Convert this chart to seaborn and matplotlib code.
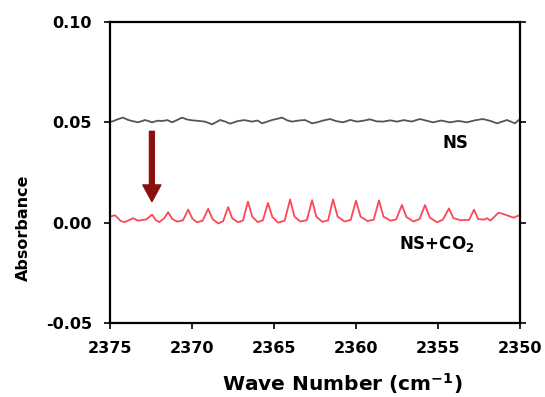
import matplotlib
matplotlib.use("Agg")
import matplotlib.pyplot as plt
import seaborn as sns
import pandas as pd

# ---- data ----
ns_wn = [2375.00, 2374.88, 2374.55, 2374.21, 2373.90, 2373.66, 2373.29, 2372.87, 2372.65,
         2372.44, 2372.10, 2371.83, 2371.50, 2371.22, 2370.90, 2370.61, 2370.30, 2370.00,
         2369.60, 2369.21, 2368.78, 2368.29, 2367.95, 2367.68, 2367.20, 2366.80, 2366.34,
         2366.00, 2365.73, 2365.40, 2365.12, 2364.51, 2364.20, 2363.90, 2363.50, 2363.11,
         2362.68, 2362.38, 2362.00, 2361.59, 2361.20, 2360.79, 2360.35, 2359.94, 2359.55,
         2359.15, 2358.75, 2358.35, 2357.90, 2357.50, 2357.10, 2356.60, 2356.10, 2355.70,
         2355.30, 2354.80, 2354.27, 2353.75, 2353.23, 2352.75, 2352.26, 2351.80, 2351.40,
         2351.10, 2350.79, 2350.30, 2350.00]
ns_abs = [0.0505, 0.05035, 0.0515, 0.05235, 0.0512, 0.05065, 0.0500, 0.05115, 0.0506,
          0.0500, 0.0508, 0.05065, 0.0511, 0.0500, 0.0512, 0.05235, 0.0514, 0.0510,
          0.0507, 0.05035, 0.0490, 0.05115, 0.0503, 0.04935, 0.05065, 0.0511, 0.05035,
          0.0509, 0.0495, 0.0504, 0.05115, 0.05235, 0.0510, 0.05035, 0.0509, 0.05115,
          0.0495, 0.0500, 0.0509, 0.05165, 0.0506, 0.0500, 0.0512, 0.05035, 0.0508,
          0.0515, 0.0505, 0.05035, 0.0510, 0.05035, 0.0511, 0.0504, 0.05165, 0.0508,
          0.0500, 0.0509, 0.0500, 0.0507, 0.0500, 0.0510, 0.05165, 0.0507, 0.0495,
          0.0503, 0.05115, 0.0495, 0.05165]

co2_wn = [2375.00, 2374.70, 2374.35, 2374.10, 2373.60, 2373.30, 2372.80, 2372.44, 2372.20,
          2372.00, 2371.70, 2371.46, 2371.20, 2370.90, 2370.55, 2370.24, 2369.98, 2369.70,
          2369.35, 2369.02, 2368.75, 2368.40, 2368.10, 2367.80, 2367.55, 2367.20, 2366.90,
          2366.59, 2366.33, 2366.00, 2365.68, 2365.37, 2365.10, 2364.75, 2364.35, 2364.02,
          2363.75, 2363.40, 2363.00, 2362.68, 2362.42, 2362.05, 2361.70, 2361.40, 2361.12,
          2360.70, 2360.32, 2360.00, 2359.72, 2359.30, 2358.92, 2358.60, 2358.32, 2357.90,
          2357.55, 2357.20, 2356.92, 2356.50, 2356.12, 2355.79, 2355.50, 2355.05, 2354.70,
          2354.33, 2354.05, 2353.60, 2353.10, 2352.80, 2352.55, 2352.20, 2352.00, 2351.80,
          2351.30, 2350.90, 2350.40, 2350.00]
co2_abs = [0.0030, 0.0037, 0.0008, 0.0003, 0.0022, 0.0010, 0.0016, 0.0040, 0.0012,
           0.0003, 0.0022, 0.0052, 0.0018, 0.0005, 0.0012, 0.0065, 0.0020, 0.0002,
           0.0010, 0.0069, 0.0018, -0.0004, 0.0008, 0.0078, 0.0022, 0.0002, 0.0010,
           0.0105, 0.0030, 0.0003, 0.0012, 0.0098, 0.0028, 0.0000, 0.0010, 0.0116,
           0.0030, 0.0006, 0.0012, 0.0112, 0.0030, 0.0004, 0.0012, 0.0116, 0.0030,
           0.0006, 0.0014, 0.0110, 0.0030, 0.0008, 0.0015, 0.0111, 0.0030, 0.0010,
           0.0016, 0.0088, 0.0028, 0.0006, 0.0018, 0.0088, 0.0025, 0.0002, 0.0015,
           0.0071, 0.0022, 0.0012, 0.0014, 0.0065, 0.0018, 0.0015, 0.0022, 0.0010,
           0.0050, 0.0040, 0.0025, 0.0038]

x_ticks = [2375, 2370, 2365, 2360, 2355, 2350]
y_ticks = [-0.05, 0.00, 0.05, 0.10]
y_tick_labels = ["-0.05", "0.00", "0.05", "0.10"]
label_ns = "NS"
label_co2 = r"NS+CO$_\mathbf{2}$"

# ---- plot ----
sns.set_theme(style="white")
plt.rcParams["font.family"] = ["DejaVu Sans"]
plt.rcParams["mathtext.fontset"] = "dejavusans"

fig = plt.figure(figsize=(5.45, 3.97), dpi=100)
ax = fig.add_axes([0.202, 0.1864, 0.752, 0.7582])

df_ns = pd.DataFrame({"wn": ns_wn, "abs": ns_abs})
df_co2 = pd.DataFrame({"wn": co2_wn, "abs": co2_abs})
sns.lineplot(data=df_ns, x="wn", y="abs", ax=ax, color="#555555", lw=1.3, sort=False,
             estimator=None)
sns.lineplot(data=df_co2, x="wn", y="abs", ax=ax, color="#ff4656", lw=1.3, sort=False,
             estimator=None)

ax.set_xlim(2375, 2350)
ax.set_ylim(-0.05, 0.10)
ax.set_xticks(x_ticks)
ax.set_xticklabels([str(t) for t in x_ticks])
ax.set_yticks(y_ticks)
ax.set_yticklabels(y_tick_labels)

for s in ax.spines.values():
    s.set_visible(True)
    s.set_color("black")
    s.set_linewidth(1.6)

ax.tick_params(axis="both", which="major", direction="out", length=4, width=1.2,
               color="black", labelsize=11.5, labelcolor="black")
ax.tick_params(axis="y", right=True, left=True, pad=9)
ax.tick_params(axis="x", bottom=True, top=False, pad=9)
for lab in ax.get_xticklabels() + ax.get_yticklabels():
    lab.set_fontweight("bold")

ax.set_xlabel(r"Wave Number (cm$^{\mathbf{-1}}$)", fontsize=14.5, fontweight="bold",
              color="black")
ax.set_ylabel("Absorbance", fontsize=11.5, fontweight="bold", color="black")
ax.xaxis.set_label_coords(0.566, -0.16)
ax.yaxis.set_label_coords(-0.192, 0.315)

ax.text(2353.96, 0.0395, label_ns, fontsize=12, fontweight="bold", ha="center",
        va="center", color="black")
ax.text(2355.06, -0.0105, label_co2, fontsize=12, fontweight="bold", ha="center",
        va="center", color="black")

ax.annotate("", xy=(2372.45, 0.0105), xytext=(2372.45, 0.0455),
            arrowprops=dict(facecolor="#8b1010", edgecolor="#8b1010", width=3.5,
                            headwidth=13, headlength=12))

fig.savefig("out.png", dpi=100)
